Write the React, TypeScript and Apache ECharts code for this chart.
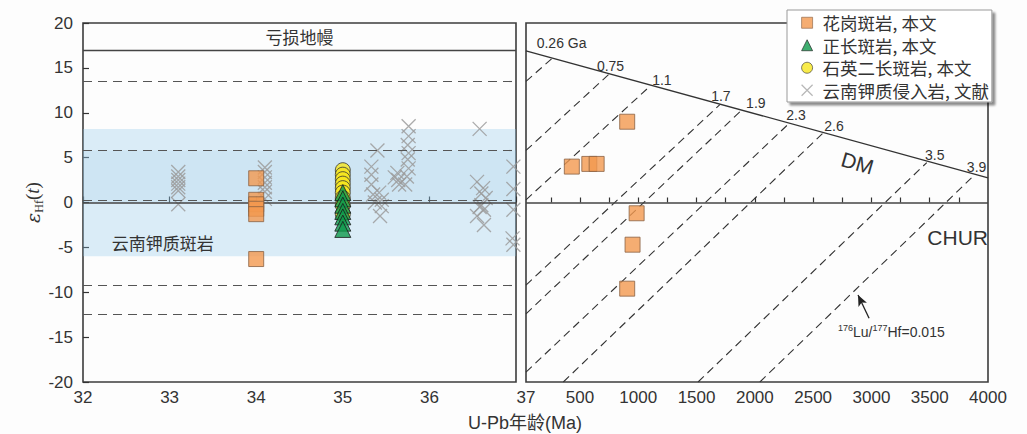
import React, { useEffect, useRef } from 'react';
import * as echarts from 'echarts';

const FONT = '"Liberation Sans", "Noto Sans CJK SC", sans-serif';
const CJK = '"Noto Sans CJK SC", "Liberation Sans", sans-serif';

// 左图 (U-Pb 年龄 32-37 Ma)
const graniteLeft = [[34, 2.7], [34, 0.3], [34, -0.2], [34, -0.7], [34, -1.3], [34, -6.3]];
const monzoniteLeft = [[35, 3.6], [35, 3.1], [35, 2.6], [35, 2.1], [35, 1.6], [35, 1.1], [35, 0.5], [35, -0.3], [35, -1.3]];
const syeniteLeft = [[35, 1.1], [35, 0.4], [35, -0.3], [35, -1.0], [35, -1.6], [35, -2.3], [35, -3.0]];
const literature = [
  [33.1, 3.4], [33.1, 2.9], [33.1, 2.5], [33.1, 2.1], [33.1, 1.7], [33.1, 1.3], [33.1, -0.2],
  [34.1, 3.9], [34.1, 3.4], [34.1, 2.8], [34.1, 2.2], [34.1, 1.7], [34.1, 1.2], [34.1, 0.4],
  [35.33, 4.0], [35.33, 3.1], [35.33, 2.0], [35.35, 0.9], [35.42, 1.1], [35.45, 0.3], [35.45, -0.4],
  [35.43, -1.5], [35.4, 5.8], [35.37, 0.0],
  [35.63, 3.3], [35.64, 2.5], [35.65, 2.0], [35.6, 2.8], [35.76, 8.5], [35.76, 7.4], [35.75, 6.4],
  [35.76, 5.5], [35.75, 4.8], [35.76, 3.8], [35.74, 2.9], [35.72, 2.0],
  [36.58, 8.2], [36.55, 2.3], [36.62, 1.6], [36.6, 1.0], [36.65, 0.5], [36.6, -0.3], [36.63, -0.8],
  [36.55, -1.5], [36.63, -2.5], [36.58, -0.5],
  [36.97, 4.0], [36.97, 1.5], [36.97, -0.8], [36.96, -4.0], [36.97, -4.7],
];
const leftDashed = [13.5, 5.8, 0.3, -9.2, -12.4];
const depletedMantle = 17;
const bandOuter = [-6, 8.2];
const bandInner = [0, 5.8];

// 右图 (Hf 模式年龄)
const graniteAge = [430, 580, 643, 905, 986, 951, 905];
const graniteEps = [4.0, 4.3, 4.3, 9.0, -1.2, -4.7, -9.6];
const dmLine = [[37, 16.9], [4000, 2.75]];
const evoNames = ['0.26 Ga', '0.75', '1.1', '1.7', '1.9', '2.3', '2.6', '3.5', '3.9'];
const evoStart = [[37, 13.5], [37, 5.8], [37, 0.3], [37, -9.2], [37, -12.4], [37, -18.9], [357, -20], [1513, -20], [2043, -20]];
const evoEnd = [[265, 16.1], [745, 14.25], [1100, 12.95], [1700, 10.9], [1880, 10.2], [2285, 8.7], [2585, 7.75], [3475, 4.45], [3885, 3.08]];
const evoLabelOffset = [[9, -15], [2, -9], [12, -6], [1, -9], [15, -8], [8, -9], [11, -7], [8, -8], [2, -8]];
const rightLabels = [37, 500, 1000, 1500, 2000, 2500, 3000, 3500, 4000];
const rightTicks = [250, 500, 750, 1000, 1250, 1500, 1750, 2000, 2250, 2500, 2750, 3000, 3250, 3500, 3750];
const leftTicks = [-20, -15, -10, -5, 0, 5, 10, 15, 20];

const N_GRANITE = '花岗斑岩, 本文';
const N_SYENITE = '正长斑岩, 本文';
const N_MONZO = '石英二长斑岩, 本文';
const N_LIT = '云南钾质侵入岩, 文献';

const CROSS = 'path://M0,0L10,10M10,0L0,10';

const textPoint = (coord: number[], text: string, extra: object = {}) => ({
  coord,
  symbol: 'circle',
  symbolSize: 0,
  label: { show: true, position: 'inside', formatter: text, color: '#333', ...extra },
});

const App: React.FC = () => {
  const chartRef = useRef<HTMLDivElement | null>(null);

  useEffect(() => {
    if (!chartRef.current) return;
    const chart = echarts.init(chartRef.current, null, { renderer: 'svg' });

    const squareStyle = { color: '#f2984f', borderColor: '#8a6244', borderWidth: 1 };

    const evoSeries = evoNames.map((name, i) => ({
      type: 'line',
      name: 'evo' + i,
      xAxisIndex: 1,
      yAxisIndex: 1,
      data: [evoStart[i], evoEnd[i]],
      symbol: 'none',
      silent: true,
      z: 2,
      lineStyle: { color: '#333', width: 1.1, type: [8, 5] },
    }));

    const option = {
      animation: false,
      backgroundColor: '#fdfdfd',
      textStyle: { fontFamily: FONT },
      legend: {
        left: 787,
        top: 10,
        orient: 'vertical',
        selectedMode: false,
        backgroundColor: '#fff',
        borderColor: '#999',
        borderWidth: 1,
        shadowColor: 'rgba(0,0,0,0.45)',
        shadowBlur: 2,
        shadowOffsetX: 3,
        shadowOffsetY: 3,
        padding: [4, 3, 3, 14],
        itemGap: 5,
        itemWidth: 11,
        itemHeight: 11,
        textStyle: { fontFamily: CJK, fontSize: 17.5, color: '#333', lineHeight: 17, padding: [0, 0, 0, 5] },
        data: [
          { name: N_GRANITE, icon: 'rect', itemStyle: { color: '#f2984f', borderColor: '#8a6244', borderWidth: 0.8 } },
          { name: N_SYENITE, icon: 'triangle', itemStyle: { color: '#0f9a4c', borderColor: '#1a1a1a', borderWidth: 0.8 } },
          { name: N_MONZO, icon: 'circle', itemStyle: { color: '#f6e61e', borderColor: '#333', borderWidth: 0.8 } },
          { name: N_LIT, icon: CROSS, itemStyle: { color: 'rgba(0,0,0,0)', borderColor: '#aaa', borderWidth: 1.2 } },
        ],
      },
      grid: [
        { left: 83, top: 23, width: 433, height: 359, show: true, borderColor: '#3c3c3c', borderWidth: 1.6, backgroundColor: 'transparent' },
        { left: 526, top: 23, width: 462, height: 359, show: true, borderColor: '#3c3c3c', borderWidth: 1.6, backgroundColor: 'transparent' },
      ],
      xAxis: [
        {
          gridIndex: 0, type: 'value', min: 32, max: 37, interval: 1,
          axisLine: { show: false },
          axisTick: { show: true, inside: true, length: 6, lineStyle: { color: '#333', width: 1.2 } },
          axisLabel: { fontSize: 17, color: '#333', margin: 7, formatter: (v: number) => (v === 37 ? '' : String(v)) },
          splitLine: { show: false },
        },
        {
          gridIndex: 1, type: 'value', min: 37, max: 4000,
          axisLine: { show: false },
          axisTick: { show: true, inside: true, length: 5, customValues: rightTicks, lineStyle: { color: '#333', width: 1.2 } },
          axisLabel: { fontSize: 17, color: '#333', margin: 7, customValues: rightLabels, formatter: (v: number) => String(v) },
          splitLine: { show: false },
        },
      ],
      yAxis: [
        {
          gridIndex: 0, type: 'value', min: -20, max: 20, interval: 5,
          axisLine: { show: false },
          axisTick: { show: true, inside: true, length: 6, lineStyle: { color: '#333', width: 1.2 } },
          axisLabel: { fontSize: 17, color: '#333', margin: 10, customValues: leftTicks },
          splitLine: { show: false },
          name: '{e|ε}{s|Hf}{p|(}{i|t}{p|)}',
          nameLocation: 'middle',
          nameGap: 27,
          nameTextStyle: {
            rich: {
              e: { fontFamily: 'DejaVu Serif', fontSize: 19, fontStyle: 'italic', color: '#333', lineHeight: 24 },
              s: { fontFamily: 'Liberation Serif', fontSize: 12, color: '#333', verticalAlign: 'bottom', lineHeight: 12 },
              p: { fontFamily: 'Liberation Serif', fontSize: 19, color: '#333', lineHeight: 24 },
              i: { fontFamily: 'Liberation Serif', fontSize: 19, fontStyle: 'italic', color: '#333', lineHeight: 24 },
            },
          },
        },
        {
          gridIndex: 1, type: 'value', min: -20, max: 20, interval: 5,
          axisLine: { show: false }, axisTick: { show: false }, axisLabel: { show: false }, splitLine: { show: false },
        },
      ],
      graphic: [
        {
          type: 'text', x: 525, y: 423,
          style: { text: 'U-Pb年龄(Ma)', font: '18px "Liberation Sans", "Noto Sans CJK SC"', fill: '#333', textAlign: 'center', textVerticalAlign: 'middle' },
        },
      ],
      series: [
        {
          type: 'line', name: 'refLeft', xAxisIndex: 0, yAxisIndex: 0, data: [], z: 2, silent: true,
          markLine: {
            silent: true, symbol: 'none', label: { show: false },
            data: [
              { yAxis: depletedMantle, lineStyle: { type: 'solid', color: '#444', width: 1.4 } },
              { yAxis: 0, lineStyle: { type: 'solid', color: '#444', width: 1.6 } },
              ...leftDashed.map((v) => ({ yAxis: v, lineStyle: { type: [9, 6], color: '#555', width: 1.1 } })),
            ],
          },
        },
        {
          type: 'scatter', name: N_LIT, xAxisIndex: 0, yAxisIndex: 0, data: literature, z: 3,
          symbol: CROSS, symbolSize: 14,
          itemStyle: { color: 'rgba(0,0,0,0)', borderColor: '#9c9c9c', borderWidth: 1.3, opacity: 0.85 },
        },
        {
          type: 'line', name: 'band', xAxisIndex: 0, yAxisIndex: 0, data: [], z: 4, silent: true,
          markArea: {
            silent: true,
            data: [
              [{ yAxis: bandOuter[0], itemStyle: { color: 'rgba(140,200,235,0.3)' } }, { yAxis: bandOuter[1] }],
              [{ yAxis: bandInner[0], itemStyle: { color: 'rgba(140,190,225,0.16)' } }, { yAxis: bandInner[1] }],
            ],
          },
        },
        {
          type: 'scatter', name: N_MONZO, xAxisIndex: 0, yAxisIndex: 0, data: monzoniteLeft, z: 5,
          symbol: 'circle', symbolSize: 15,
          itemStyle: { color: '#f6e61e', borderColor: '#333', borderWidth: 1 },
        },
        {
          type: 'scatter', name: N_SYENITE, xAxisIndex: 0, yAxisIndex: 0, data: syeniteLeft, z: 5,
          symbol: 'triangle', symbolSize: 16,
          itemStyle: { color: '#0f9a4c', borderColor: '#1a1a1a', borderWidth: 1 },
        },
        {
          type: 'scatter', name: N_GRANITE, xAxisIndex: 0, yAxisIndex: 0, data: graniteLeft, z: 5,
          symbol: 'rect', symbolSize: 15, itemStyle: squareStyle,
          markPoint: {
            silent: true, symbolSize: 0,
            data: [
              textPoint([34.5, 18.5], '亏损地幔', { fontFamily: CJK, fontSize: 17 }),
              textPoint([32.92, -4.5], '云南钾质斑岩', { fontFamily: CJK, fontSize: 17 }),
            ],
          },
        },
        {
          type: 'line', name: 'DM', xAxisIndex: 1, yAxisIndex: 1, data: dmLine, z: 3, silent: true,
          symbol: 'none', lineStyle: { color: '#333', width: 1.3 },
          markLine: {
            silent: true, symbol: 'none', label: { show: false },
            data: [
              { yAxis: 0, lineStyle: { type: 'solid', color: '#444', width: 1.6 } },
              [
                { coord: [2980, -12.9], symbol: 'none', lineStyle: { type: 'solid', color: '#222', width: 1.3 } },
                { coord: [2885, -10.3], symbol: 'arrow', symbolSize: [7, 11] },
              ],
            ],
          },
          markPoint: {
            silent: true, symbolSize: 0,
            data: [
              ...evoNames.map((n, i) =>
                textPoint(evoEnd[i], n, { fontSize: 14, offset: evoLabelOffset[i] })
              ),
              textPoint([2880, 4.4], 'DM', { fontSize: 21, rotate: -16 }),
              textPoint([3740, -3.95], 'CHUR', { fontSize: 21 }),
              textPoint([3171, -14.4], '{s|176}{n|Lu/}{s|177}{n|Hf=0.015}', {
                rich: {
                  s: { fontSize: 9, color: '#333', verticalAlign: 'top', lineHeight: 10 },
                  n: { fontSize: 14, color: '#333', lineHeight: 16 },
                },
              }),
            ],
          },
        },
        ...evoSeries,
        {
          type: 'scatter', name: N_GRANITE, xAxisIndex: 1, yAxisIndex: 1, z: 5,
          data: graniteAge.map((a, i) => [a, graniteEps[i]]),
          symbol: 'rect', symbolSize: 15, itemStyle: squareStyle,
        },
      ],
    };

    chart.setOption(option as any);
    return () => {
      chart.dispose();
    };
  }, []);

  return <div ref={chartRef} style={{ position: 'absolute', left: 0, top: 0, width: 1027, height: 434 }} />;
};

export default App;
